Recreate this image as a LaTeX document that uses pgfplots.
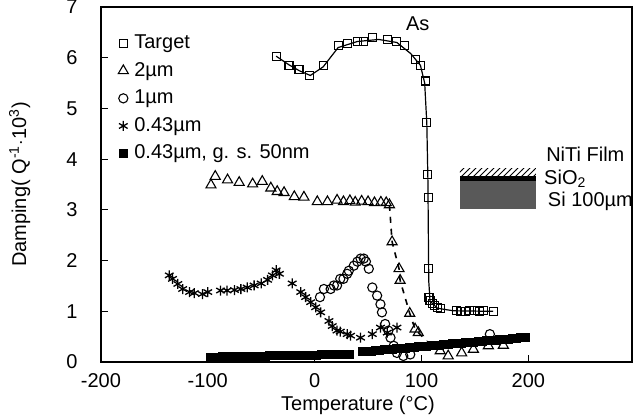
\documentclass[border=0pt]{standalone}
\usepackage{pgfplots}
\pgfplotsset{compat=1.18}
\usetikzlibrary{patterns}
\usepackage{fontspec}
\setmainfont{Liberation Sans}
\begin{document}
\fontsize{10}{12}\selectfont
\begin{tikzpicture}
\begin{axis}[
    scale only axis,
    width=265.5pt, height=177.5pt,
    xmin=-200, xmax=297, ymin=0, ymax=7,
    xtick={-200,-100,0,100,200},
    ytick={0,1,...,7},
    tick align=inside,
    xtick pos=bottom, ytick pos=left,
    major tick length=3.5pt,
    axis line style={line width=0.9pt},
    every tick/.style={black, line width=0.6pt},
    /pgf/number format/assume math mode=true,
    yticklabel style={xshift=-8.2pt},
    xticklabel style={yshift=-2.2pt},
    xlabel={Temperature (°C)},
    ylabel={Damping( Q\textsuperscript{-1}$\cdot$10\textsuperscript{3})},
    every axis y label/.style={at={(axis description cs:-0.153,0.5)}, rotate=90, anchor=center},
    every axis x label/.style={at={(axis description cs:0.484,-0.121)}, anchor=center},
    legend image code/.code={\draw[mark repeat=2,mark phase=2,#1] plot coordinates {(0pt,0pt) (5pt,0pt) (10pt,0pt)};},
    legend style={draw=none, fill=none, inner sep=0pt, at={(0.032,0.932)}, anchor=north west,
        nodes={inner sep=1pt, text height=7.5pt, text depth=2.1pt, anchor=west}, row sep=2.2pt, column sep=2pt},
    legend cell align=left,
]
% Target
\addplot[black, line width=0.6pt, forget plot] coordinates {
(-36,6.03) (-24,5.86) (-14,5.74) (-4,5.65) (8,5.82) (22,6.2) (40,6.32) (60,6.36) (77,6.3) (90,6.08)
(99,5.85) (103,5.5) (105,4.7) (106,3.6) (106.8,1.6) (108,1.2) (115,1.06) (130,1.01) (167,1.0)};
\addplot[only marks, mark=square, mark size=2pt, mark options={line width=0.55pt}] coordinates {
(-36,6.03) (-24,5.85) (-14.6,5.76) (-4.4,5.65) (8,5.84) (22,6.24) (31,6.28) (40,6.32) (46,6.32) (54,6.4)
(68,6.36) (77,6.32) (84,6.24) (94,5.97) (99.5,5.85) (103.5,5.54) (105,4.73) (106,3.69) (106.3,3.25)
(106.6,1.84) (107,1.28) (108,1.21) (110,1.15) (112,1.11) (115,1.08) (118,1.05) (133,1.01) (137,1.0)
(141,1.0) (145,1.01) (150,1.01) (154,1.0) (158,1.02) (167,0.99)};
\addlegendentry{Target}
% 2 um
\addplot[black, dashed, line width=0.8pt, forget plot] coordinates {
(70,3.1) (72.5,2.37) (79,1.84) (80,1.61) (89,0.96) (94,0.65) (97,0.58) (105,0.42)};
\addplot[only marks, mark=triangle, mark size=2.9pt, mark options={line width=0.55pt}] coordinates {
(-97,3.49) (-93,3.66) (-81.5,3.59) (-70.6,3.54) (-58,3.51) (-49,3.56) (-41,3.43) (-35,3.36) (-28.6,3.34)
(-19,3.26) (-10,3.25) (2.5,3.16) (12,3.16) (21,3.19) (27,3.16) (33,3.18) (38,3.15) (44,3.17) (50,3.16)
(56,3.14) (62,3.15) (67,3.14) (70,3.1) (72.5,2.37) (79,1.84) (80,1.61) (89,0.96) (94,0.65) (97,0.58)
(117.5,0.22) (125,0.12) (137.6,0.18) (148.6,0.25) (162.6,0.32) (176.6,0.33)};
\addlegendentry{2µm}
% 1 um
\addplot[only marks, mark=o, mark size=2.3pt, mark options={line width=0.55pt}] coordinates {
(5,1.28) (8.7,1.44) (15,1.44) (18,1.51) (21,1.51) (24,1.64) (27,1.64) (30.5,1.74) (32,1.8) (36.7,1.9)
(40,1.98) (43,2.04) (46,2.04) (48,1.98) (50.7,1.84) (54,1.47) (58.5,1.31) (61.6,1.14) (63,0.98) (66,0.75)
(69,0.62) (71,0.48) (74,0.32) (77,0.18) (83,0.12) (89.5,0.15) (164,0.55)};
\addlegendentry{1µm}
% 0.43 um
\addplot[only marks, mark=asterisk, mark size=2.5pt, mark options={line width=0.65pt}] coordinates {
(-136,1.71) (-133,1.64) (-128,1.54) (-123.5,1.44) (-117,1.38) (-112.6,1.36) (-105,1.34) (-100,1.38)
(-88,1.41) (-82,1.41) (-75,1.42) (-69,1.44) (-63,1.47) (-56.6,1.51) (-50,1.55) (-44,1.62) (-39.5,1.71)
(-36,1.81) (-33,1.74) (-21,1.55) (-13,1.38) (-8.4,1.28) (-3.7,1.18) (1,1.08) (5.6,0.98) (13.4,0.81)
(16.5,0.71) (21,0.62) (24,0.6) (30.5,0.55) (33.6,0.52) (43,0.48) (54,0.55) (61.6,0.68) (68,0.58) (77,0.68)};
\addlegendentry{0.43µm}
% 0.43 um, g.s. 50 nm
\addplot[only marks, mark=square*, mark size=2pt, mark options={line width=0pt}] coordinates {
(-97,0.09) (-94,0.09) (-90,0.09) (-86,0.10) (-82,0.10) (-78,0.10) (-74,0.10) (-70,0.10) (-66,0.11)
(-62,0.11) (-58,0.11) (-54,0.11) (-50,0.11) (-46,0.11) (-42,0.12) (-38,0.12) (-34,0.12) (-30,0.12)
(-26,0.12) (-22,0.12) (-18,0.13) (-14,0.13) (-10,0.13) (-6,0.13) (-2,0.13) (2,0.13) (6,0.14) (10,0.14)
(14,0.14) (18,0.14) (22,0.14) (26,0.14) (30,0.15) (33,0.15)
(45,0.20) (49,0.21) (53,0.21) (57,0.22) (61,0.23) (65,0.24) (69,0.24) (73,0.25) (77,0.26) (81,0.27)
(85,0.27) (89,0.28) (93,0.29) (97,0.30) (101,0.30) (105,0.31) (109,0.32) (113,0.33) (117,0.33) (121,0.34)
(125,0.35) (129,0.36) (133,0.36) (137,0.37) (141,0.38) (145,0.39) (149,0.39) (153,0.40) (157,0.41)
(161,0.42) (165,0.42) (169,0.43) (173,0.44) (177,0.45) (181,0.45) (185,0.46) (189,0.47) (193,0.48) (197,0.48)};
\addlegendentry{0.43µm, g. s. 50nm}
% annotations and inset
\node at (axis cs:96.5,6.67) {As};
\fill[pattern=north east lines] (axis cs:136,3.67) rectangle (axis cs:207,3.81);
\fill[black] (axis cs:136,3.57) rectangle (axis cs:207,3.67);
\fill[black!65] (axis cs:136,3.02) rectangle (axis cs:207,3.57);
\node[anchor=west, inner sep=0pt] at (axis cs:216.4,4.09) {NiTi Film};
\node[anchor=west, inner sep=0pt] at (axis cs:214.5,3.61) {SiO\textsubscript{2}};
\node[anchor=west, inner sep=0pt] at (axis cs:218,3.17) {Si 100µm};
\coordinate (bl) at (rel axis cs:-0.190,-0.152);
\coordinate (tr) at (rel axis cs:1.0038,1.0197);
\end{axis}
\pgfresetboundingbox
\path (bl) rectangle (tr);
\end{tikzpicture}
\end{document}
